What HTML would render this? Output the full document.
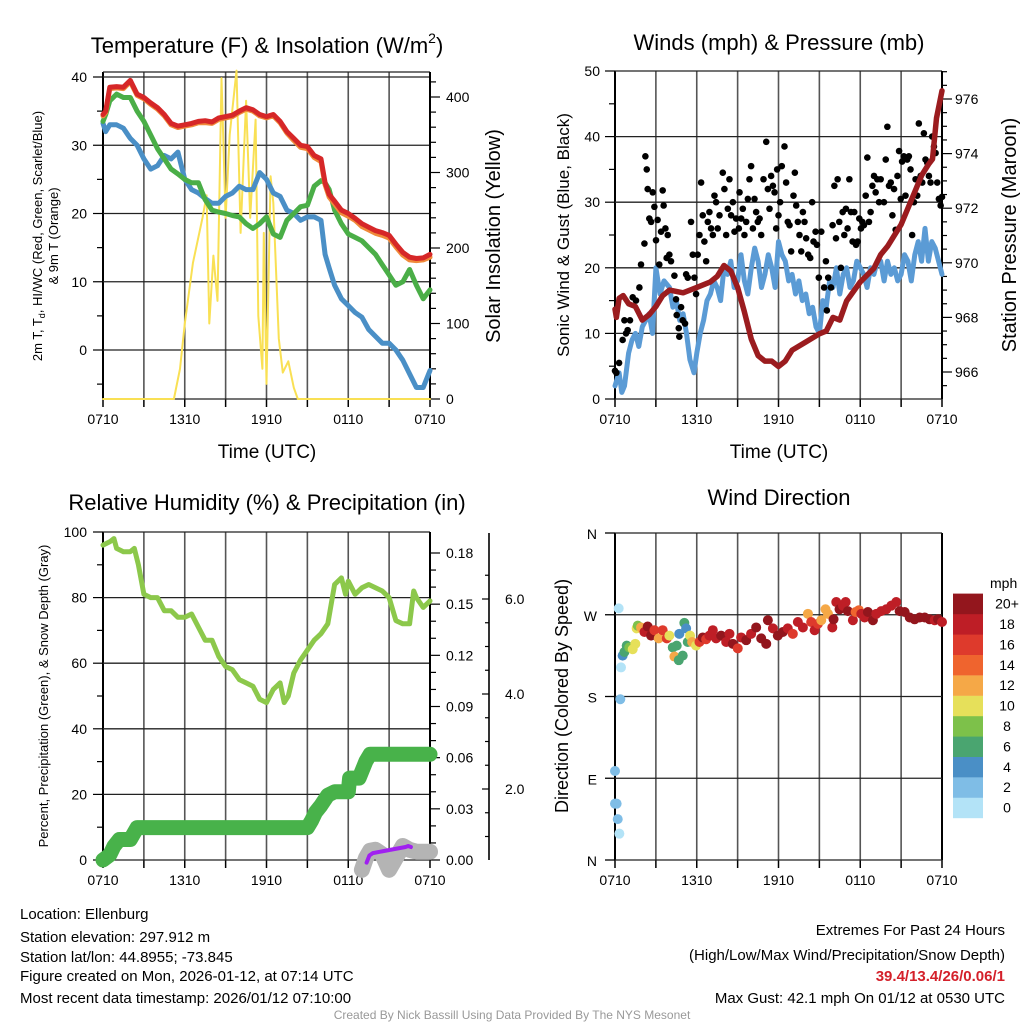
<!DOCTYPE html>
<html><head><meta charset="utf-8"><style>
html,body{margin:0;padding:0;background:#fff;}
svg{display:block;font-family:"Liberation Sans",sans-serif;}
</style></head><body>
<svg id="root" width="1024" height="1024" viewBox="0 0 1024 1024" xmlns="http://www.w3.org/2000/svg">
<g id="g1"></g>
<g id="g2"></g>
<g id="g3"></g>
<g id="g4"></g>
<g font-size="15" fill="#000">
<text x="20" y="919">Location: Ellenburg</text>
<text x="20" y="942">Station elevation: 297.912 m</text>
<text x="20" y="962">Station lat/lon: 44.8955; -73.845</text>
<text x="20" y="981">Figure created on Mon, 2026-01-12, at 07:14 UTC</text>
<text x="20" y="1003">Most recent data timestamp: 2026/01/12 07:10:00</text>
<text x="1005" y="935" text-anchor="end">Extremes For Past 24 Hours</text>
<text x="1005" y="960" text-anchor="end">(High/Low/Max Wind/Precipitation/Snow Depth)</text>
<text x="1005" y="981" text-anchor="end" fill="#d4202a" font-weight="bold">39.4/13.4/26/0.06/1</text>
<text x="1005" y="1003" text-anchor="end">Max Gust: 42.1 mph On 01/12 at 0530 UTC</text>
<text x="512" y="1019" text-anchor="middle" font-size="12" fill="#999">Created By Nick Bassill Using Data Provided By The NYS Mesonet</text>
</g>
</svg>
<script>
// ---- Temperature panel data (hours since 0710) ----
const tT = [0,0.2,0.5,1,1.5,2,2.5,3,3.5,4,4.5,5,5.5,6,6.5,7,7.5,8,8.5,9,9.5,10,10.5,11,11.5,12,12.5,13,13.5,14,14.5,15,15.5,16,16.3,16.6,17,17.5,18,18.5,19,19.5,20,20.5,21,21.5,22,22.5,23,23.5,24];
const tempRed = [34.5,35,38.5,38.6,38.5,39.5,37.5,37,36.2,35.5,34.5,33.2,32.8,33,33.2,33.5,33.6,33.4,34,34.2,34.4,35,35.5,35.2,34.5,34.2,34.5,33.5,32,31,30,29.8,28.5,28,24.5,22.8,21.8,20.5,20,19.3,18.5,18,17.5,17.2,16.8,15.5,14.3,13.6,13.4,13.5,14];
const tempOrange = [34.3,34.8,38.3,38.4,38.3,39.3,37.3,36.8,36,35.3,34.3,33,32.6,32.8,33,33.3,33.3,33.2,33.8,34,34.2,34.8,35.3,35,34.3,34,34.3,33.3,31.8,30.7,29.7,29.5,28.2,27.6,24.2,22.4,21.4,20.1,19.6,19,18.1,17.6,17.1,16.8,16.4,15.1,13.9,13.2,13.1,13.2,13.6];
const tempGreen = [33.5,34.5,36.5,37.5,37,37,35,33.5,31.5,29.5,28,26.5,25.8,25,24.5,24.5,22,20.5,20.2,20,19.7,19.5,18.5,17.8,18.5,19.5,17,16.5,19,20,21,21.2,24,24.8,24.5,23.5,20.5,18.5,17,16.5,16,15,14,12.5,11,9.5,10,11.8,9.5,7.5,8.8];
const tempBlue = [33.2,32,33,33,32.5,31,30,28,26.5,27,28.5,28,29,25,23.5,23,22.2,21.5,21.5,22.5,23,24,23.5,23.5,26,25,23,22.5,20.5,20,19,19.5,19.5,19,14,12,9.5,7.5,6.5,5.5,4.8,3,2,1,1,0,-1.5,-3.5,-5.5,-5.5,-3];
const tSun = [0,5.2,5.65,6,6.6,7.3,7.6,7.8,8.1,8.4,8.7,9,9.3,9.8,10.1,10.5,10.8,11.2,11.4,11.7,11.8,12,12.3,12.5,12.9,13.2,13.6,14,14.3,24];
const solar = [0,0,40,100,180,240,270,100,190,130,425,240,350,435,220,395,240,370,110,40,220,20,295,260,80,35,50,15,0,0];
// ---- Wind / pressure data ----
const tP = [0,0.1,0.3,0.6,1,1.5,2,2.5,3,3.5,4,5,6,7,7.5,8,8.5,9,9.5,10,10.5,11,11.5,12,12.5,13,14,15,15.5,16,16.5,17,18,19,19.5,20,21,22,22.5,23,23.3,23.6,24];
const pressure = [968.3,968,968.7,968.8,968.5,968.4,967.9,968.1,968.4,968.8,969,968.9,969.1,969.3,969.5,969.9,969.7,969.1,968.2,967.2,966.6,966.4,966.4,966.2,966.4,966.8,967.1,967.4,967.5,968,967.9,968.6,969.3,969.8,970.3,970.6,971.4,972.6,973.2,973.6,973.8,975.3,976.3];
const tW = [0,0.3,0.5,0.7,1,1.25,1.5,1.75,2,2.25,2.5,2.75,3,3.3,3.6,4,4.25,4.5,4.75,5,5.25,5.5,5.8,6,6.25,6.5,6.75,7,7.25,7.5,7.75,8,8.25,8.5,8.75,9,9.25,9.5,9.75,10,10.25,10.5,10.75,11,11.25,11.5,11.75,12,12.25,12.5,12.75,13,13.25,13.5,13.75,14,14.25,14.5,14.75,15,15.25,15.5,15.75,16,16.25,16.5,16.75,17,17.25,17.5,17.75,18,18.25,18.5,18.75,19,19.25,19.5,19.75,20,20.25,20.5,20.75,21,21.25,21.5,21.75,22,22.25,22.5,22.75,23,23.25,23.5,23.75,24];
const windSpd = [2,4,1,2,7,9,10,8,11,12,13,10,20,16,18,17,14,15,12,13,10,6,4,7,10,12,15,16,18,17,15,20,19,21,17,18,22,18,16,20,23,21,17,19,22,20,17,24,22,21,18,19,16,18,15,16,13,14,11,10,15,14,18,17,20,16,19,20,17,18,21,20,19,17,20,19,21,21,18,21,19,20,18,19,22,21,18,22,24,21,26,21,24,23,21,19];
const gustT = [0,0.1,0.3,0.56,0.69,0.81,0.93,1.1,1.3,1.54,1.79,1.91,2.16,2.23,2.33,2.4,2.52,2.65,2.77,2.89,3.01,3.13,3.25,3.38,3.5,3.57,3.7,3.79,3.87,3.99,4.11,4.36,4.48,4.53,4.68,4.72,4.85,4.97,5.14,5.22,5.34,5.58,5.71,5.83,5.95,6.07,6.2,6.32,6.44,6.56,6.69,6.81,6.93,7.05,7.18,7.3,7.42,7.54,7.67,7.91,8.03,8.16,8.28,8.4,8.52,8.65,8.77,8.89,9.09,9.14,9.26,9.38,9.5,9.63,9.75,9.87,9.99,10.12,10.24,10.36,10.48,10.61,10.73,10.9,11.1,11.22,11.34,11.46,11.59,11.71,11.83,11.9,12.0,12.12,12.24,12.44,12.56,12.68,12.81,12.93,13.1,13.2,13.3,13.42,13.54,13.67,13.79,13.91,14.03,14.18,14.33,14.47,14.57,14.72,14.82,14.96,15.14,15.35,15.48,15.55,15.65,15.85,15.97,16.1,16.22,16.34,16.46,16.58,16.71,16.83,16.95,17.07,17.2,17.32,17.44,17.56,17.69,17.81,17.93,18.05,18.15,18.27,18.4,18.52,18.64,18.76,18.89,19.01,19.13,19.25,19.38,19.5,19.74,19.87,19.99,20.11,20.24,20.36,20.48,20.6,20.73,20.85,20.97,21.07,21.2,21.32,21.45,21.57,21.69,21.81,21.94,22.06,22.18,22.3,22.43,22.55,22.67,22.79,22.92,23.04,23.16,23.28,23.41,23.53,23.65,23.77,23.9,24.0];
const gustV = [4.3,4,5.5,9,12,10,10.5,12,15.5,15,17,20.5,23.7,37,35,32,27.5,27,31.5,29.3,24.2,27.3,20.5,25.5,31.8,29.5,26,21.5,25,22,21,18.8,15.2,12.8,10.8,9.5,14,12,11.5,19,18.5,27,22,18.5,16,22,25,33,28,24,21,27,28.5,26,25,31,30,26,28,34.5,32,25,29,33.5,28,30,25.5,27.5,26,31.5,27.5,29,25,27,30.5,33.5,35.5,26,30.5,28.5,27,27.5,25,33.5,39.2,32,29,34,32.5,31.5,26,35,28,30,35.5,38.5,33,27,26.5,22.5,31,34.5,29.5,27,25,22.5,28.5,27,24.5,22,21.5,30,24,25.5,23.5,18.5,25.5,17,21,13.5,18.5,17,26.5,32.5,24.5,33.5,27,20,28.5,25,29,26,33.5,28.5,24,28.5,23.5,24,27.5,26,27,26.5,31,36.8,27,28.5,32.5,34,31.5,33.5,30,33.5,30,36.5,41.5,32.5,33,28,32,25.8,34,37.8,30.5,36.2,37,31,36.5,37,35,25,30,33.5,31,42,34,33,40.5,36.5,36,34,33,40,38.5,37.5,33,30.5,29.5,30.8];
// ---- RH / precip / snow data ----
const tRH = [0,0.5,0.8,1,1.5,2,2.3,2.6,3,3.5,4,4.5,5,5.5,6,6.5,7,7.5,8,8.5,9,9.5,10,10.5,11,11.5,12,12.5,13,13.3,13.6,14,14.5,15,15.5,16,16.5,17,17.5,17.8,18,18.5,19,19.5,20,20.5,21,21.5,22,22.5,22.8,23,23.5,24];
const rh = [96,97,98,95,94,94,95,90,81,80,80,76,76,74,74,75,71,67,67,62,59,58,55,54,53,49,48,52,54,48,50,57,61,64,67,69,72,84,86,81,85,81,83,84,83,82,80,73,72,72,82,80,77,79];
const tPr = [0,0.5,0.8,1.2,2,2.5,15,15.3,15.6,16,16.5,17,18,18.1,18.8,19.3,19.6,24];
const precip = [0,0.003,0.008,0.012,0.012,0.019,0.019,0.023,0.028,0.032,0.038,0.04,0.04,0.048,0.048,0.058,0.062,0.062];
const tSnow = [19,19.3,19.6,20,20.5,21,21.5,22,22.5,23,24];
const snow = [0.3,0.55,0.7,0.72,0.62,0.3,0.55,0.8,0.72,0.68,0.68];
const tSnowP = [19.35,19.55,19.8,22.2,22.4,22.6];
const snowPurple = [0.45,0.6,0.65,0.78,0.8,0.78];
// ---- Wind direction data ----
const dirT = [0.27,0.44,0.39,0,0,0.12,0.2,0.32,0.56,0.69,0.86,1.05,1.3,1.49,1.59,1.67,1.91,2.16,2.4,2.65,2.89,3.21,3.5,3.8,3.99,4.24,4.36,4.53,4.68,4.72,4.97,5.09,5.22,5.34,5.51,5.66,5.95,6.2,6.44,6.69,6.93,7.18,7.42,7.79,8.16,8.4,8.65,9.01,9.26,9.63,9.99,10.36,10.73,11.1,11.22,11.59,11.95,12.32,12.68,13.05,13.42,13.79,14.16,14.4,14.65,14.89,15.14,15.45,15.63,15.95,16.04,16.24,16.48,16.73,16.93,17.09,17.46,17.66,17.9,18.08,18.32,18.56,18.93,19.18,19.54,19.91,20.28,20.64,20.89,21.26,21.63,21.99,22.36,22.73,23.09,23.46,23.71,24];
const dirDeg = [277,212,177,98,62,62,45,29,225,229,236,234,232,238,255,258,256,251,257,247,253,244,253,244,247,234,224,236,220,249,225,261,255,240,247,240,236,240,245,243,247,253,244,247,240,249,238,233,245,242,249,256,244,238,264,255,247,251,255,249,262,256,271,262,253,260,264,276,271,256,265,284,276,280,284,274,264,273,275,271,267,273,264,271,274,276,280,284,274,273,267,265,267,267,265,264,265,262];
const dirSpd = [0,1,3,3,3,2,3,1,4,7,7,9,10,10,10,8,13,18,20,20,17,13,17,16,11,6,13,6,6,4,6,6,4,6,10,12,10,16,20,17,18,19,18,20,19,18,20,17,19,20,19,20,20,20,20,19,20,20,19,17,18,19,13,17,19,17,12,12,12,18,20,18,20,18,19,20,18,14,14,18,19,20,20,19,18,18,18,19,20,20,20,20,20,20,20,19,20,18];
const cbColors = ["#b3e3f7","#7fbde6","#4a8fc6","#4aa570","#7dc14a","#e6e05a","#f5a847","#ef642e","#de3a2c","#be1e26","#93161d"];
const cbLabels = ["0","2","4","6","8","10","12","14","16","18","20+"];
const xLabels = ["0710","1310","1910","0110","0710"];

const NS="http://www.w3.org/2000/svg";
function mk(parent,tag,attrs,txt){const e=document.createElementNS(NS,tag);for(const k in attrs)e.setAttribute(k,attrs[k]);if(txt!==undefined)e.textContent=txt;parent.appendChild(e);return e;}
function xs(x0){return t=>x0+t/24*327;}
function lin(v0,p0,v1,p1){return v=>p0+(v-v0)*(p1-p0)/(v1-v0);}
function pathOf(ts,vs,fx,fy){return ts.map((t,i)=>(i?'L':'M')+fx(t).toFixed(1)+','+fy(vs[i]).toFixed(1)).join('');}
function vgrid(g,x0,top,bot){const fx=xs(x0);for(let i=0;i<=8;i++){const l=mk(g,'line',{x1:fx(i*3),x2:fx(i*3),y1:top,y2:bot,stroke:i===0||i===8?'#000':'#555','stroke-width':i===0||i===8?2:1.6});}
 for(let i=0;i<=8;i++){const l=mk(g,'line',{x1:fx(i*3),x2:fx(i*3),y1:bot,y2:bot+8,stroke:'#000','stroke-width':1.5});}
 xLabels.forEach((s,i)=>{const t=mk(g,'text',{x:fx(i*6),y:bot+25,'text-anchor':'middle','font-size':14},s);});}
function ytick(g,x,y,len,lw){const l=mk(g,'line',{x1:x,x2:x+len,y1:y,y2:y,stroke:'#000','stroke-width':lw||1.2});}
function label(g,x,y,s,anchor,size,name){const t=mk(g,'text',{x:x,y:y,'text-anchor':anchor,'font-size':size},s);return t;}
function rotLabel(g,x,y,s,size,name){const t=mk(g,'text',{x:0,y:0,'text-anchor':'middle','font-size':size,transform:`translate(${x},${y}) rotate(-90)`},s);return t;}
function hgrid(g,x0,y,name){const l=mk(g,'line',{x1:x0,x2:x0+327,y1:y,y2:y,stroke:'#222','stroke-width':1.3});}
function line(g,d,color,w,name){const p=mk(g,'path',{d:d,fill:'none',stroke:color,'stroke-width':w,'stroke-linejoin':'round','stroke-linecap':'round'});return p;}

// ===== Panel 1 =====
(function(){const g=document.getElementById('g1');const x0=103,fx=xs(x0);const fy=lin(0,350,40,77);const fs=lin(0,399,400,97);
 const top=72,bot=399;
 const tt=mk(g,'text',{x:267,y:53,'text-anchor':'middle','font-size':22});
 tt.innerHTML='Temperature (F) &amp; Insolation (W/m<tspan font-size="14" dy="-10">2</tspan><tspan dy="10">)</tspan>';
 vgrid(g,x0,top,bot);
 [0,10,20,30,40].forEach(v=>{hgrid(g,x0,fy(v));ytick(g,x0,fy(v),-10);label(g,x0-16,fy(v)+5,String(v),'end',14,'y-tick-label');});
 [-5,5,15,25,35].forEach(v=>ytick(g,x0,fy(v),-6));
 hgrid(g,x0,top,'plot-top-border');hgrid(g,x0,bot,'plot-bottom-border');
 const rl=mk(g,'line',{x1:430,x2:430,y1:top,y2:bot,stroke:'#000','stroke-width':2});
 for(let v=0;v<=420;v+=20){ytick(g,430,fs(v),v%100===0?10:6);}
 [0,100,200,300,400].forEach(v=>label(g,446,fs(v)+5,String(v),'start',14,'right-tick-label'));
 line(g,pathOf(tSun,solar,fx,fs),'#f9e054',2,'solar-line');
 line(g,pathOf(tT,tempBlue,fx,fy),'#4a8fc6',5,'windchill-line');
 line(g,pathOf(tT,tempGreen,fx,fy),'#4aae47',5,'dewpoint-line');
 line(g,pathOf(tT,tempOrange,fx,fy),'#f08a3a',5,'temp-9m-line');
 line(g,pathOf(tT,tempRed,fx,fy),'#d62728',5,'temp-2m-line');
 const t1=mk(g,'text',{transform:'translate(42,236) rotate(-90)','text-anchor':'middle','font-size':13});
 t1.innerHTML='2m T, T<tspan font-size="9" dy="3">d</tspan><tspan dy="-3">, HI/WC (Red, Green, Scarlet/Blue)</tspan>';
 rotLabel(g,58,236,'& 9m T (Orange)',13,'left-axis-title-line2');
 rotLabel(g,500,236,'Solar Insolation (Yellow)',20,'right-axis-title');
 label(g,267,458,'Time (UTC)','middle',19,'x-axis-title');
})();
// ===== Panel 2 =====
(function(){const g=document.getElementById('g2');const x0=615,fx=xs(x0);const fy=lin(0,399,50,71);const fp=lin(966,372,976,99);const top=71,bot=399;
 label(g,779,50,'Winds (mph) & Pressure (mb)','middle',22,'wind-title');
 vgrid(g,x0,top,bot);
 [0,10,20,30,40,50].forEach(v=>{hgrid(g,x0,fy(v));ytick(g,x0,fy(v),-10);label(g,x0-15,fy(v)+5,String(v),'end',14,'y-tick-label');});
 [5,15,25,35,45].forEach(v=>ytick(g,x0,fy(v),-6));
 const rl=mk(g,'line',{x1:942,x2:942,y1:top,y2:bot,stroke:'#000','stroke-width':2});
 for(let v=965.5;v<=977;v+=0.5){const y=fp(v);if(y>=top&&y<=bot)ytick(g,942,y,v%2===0?10:5);}
 [966,968,970,972,974,976].forEach(v=>label(g,955,fp(v)+5,String(v),'start',14,'right-tick-label'));
 line(g,pathOf(tW,windSpd,fx,fy),'#5b9bd5',5,'sustained-wind-line');
 gustT.forEach((t,i)=>{const c=mk(g,'circle',{cx:fx(t),cy:fy(gustV[i]),r:3.3,fill:'#000'});});
 line(g,pathOf(tP,pressure,fx,fp),'#9b1c1f',5.5,'pressure-line');
 rotLabel(g,569,235,'Sonic Wind & Gust (Blue, Black)',17,'left-axis-title');
 rotLabel(g,1016,235,'Station Pressure (Maroon)',20,'right-axis-title');
 label(g,779,458,'Time (UTC)','middle',19,'x-axis-title');
})();
// ===== Panel 3 =====
(function(){const g=document.getElementById('g3');const x0=103,fx=xs(x0);const fy=lin(0,860,100,532);const fpr=lin(0,860,0.18,553);const fsn=lin(0,884,6,599);const top=532,bot=860;
 label(g,267,510,'Relative Humidity (%) & Precipitation (in)','middle',22,'humidity-title');
 vgrid(g,x0,top,bot);
 [0,20,40,60,80,100].forEach(v=>{hgrid(g,x0,fy(v));ytick(g,x0,fy(v),-10);label(g,x0-16,fy(v)+5,String(v),'end',14,'y-tick-label');});
 [10,30,50,70,90].forEach(v=>ytick(g,x0,fy(v),-6));
 const rl=mk(g,'line',{x1:430,x2:430,y1:top,y2:bot,stroke:'#000','stroke-width':2});
 for(let v=0;v<=0.19;v+=0.01){ytick(g,430,fpr(v),Math.round(v*100)%3===0?10:6);}
 [0,0.03,0.06,0.09,0.12,0.15,0.18].forEach(v=>label(g,446,fpr(v)+5,v.toFixed(2),'start',14,'right-tick-label'));
 const sl=mk(g,'line',{x1:489,x2:489,y1:533,y2:860,stroke:'#000','stroke-width':1.6});
 for(let v=0.5;v<=6.9;v+=0.5){const y=fsn(v);if(y>=533&&y<=860)ytick(g,489,y,v%2===0?-7:-4);}
 [2,4,6].forEach(v=>label(g,505,fsn(v)+5,v.toFixed(1),'start',14,'snow-tick-label'));
 line(g,pathOf(tSnow,snow,fx,fsn),'#b4b4b4',16,'snow-depth-line');
 line(g,pathOf(tSnowP,snowPurple,fx,fsn),'#a020f0',4,'snow-purple-line');
 line(g,pathOf(tRH,rh,fx,fy),'#8cc84b',5,'humidity-line');
 line(g,pathOf(tPr,precip,fx,fpr),'#48b24a',15,'precip-line');
 rotLabel(g,48,696,'Percent, Precipitation (Green), & Snow Depth (Gray)',13,'left-axis-title');
})();
// ===== Panel 4 =====
(function(){const g=document.getElementById('g4');const x0=615,fx=xs(x0);const fy=lin(0,860,360,533);const top=533,bot=860;
 label(g,779,505,'Wind Direction','middle',22,'direction-title');
 vgrid(g,x0,top,bot);
 ['N','E','S','W','N'].forEach((s,i)=>{const y=fy(i*90);hgrid(g,x0,y);const l=mk(g,'line',{x1:x0,x2:x0-10,y1:y,y2:y,stroke:'#000','stroke-width':1.3});label(g,597,y+6,s,'end',14,'direction-tick-label');});
 rotLabel(g,568,696,'Direction (Colored By Speed)',18,'left-axis-title');
 dirT.forEach((t,i)=>{const b=Math.min(10,Math.floor(dirSpd[i]/2));const c=mk(g,'circle',{cx:fx(t),cy:fy(dirDeg[i]),r:5,fill:cbColors[b]});});
 label(g,990,588,'mph','start',14,'colorbar-title');
 cbColors.forEach((c,i)=>{const y=818-(i+1)*20.4;const r=mk(g,'rect',{x:953,y:y,width:30,height:20.6,fill:c});label(g,1007,y+15,cbLabels[i],'middle',14,'colorbar-label');});
})();
</script>
</body></html>
